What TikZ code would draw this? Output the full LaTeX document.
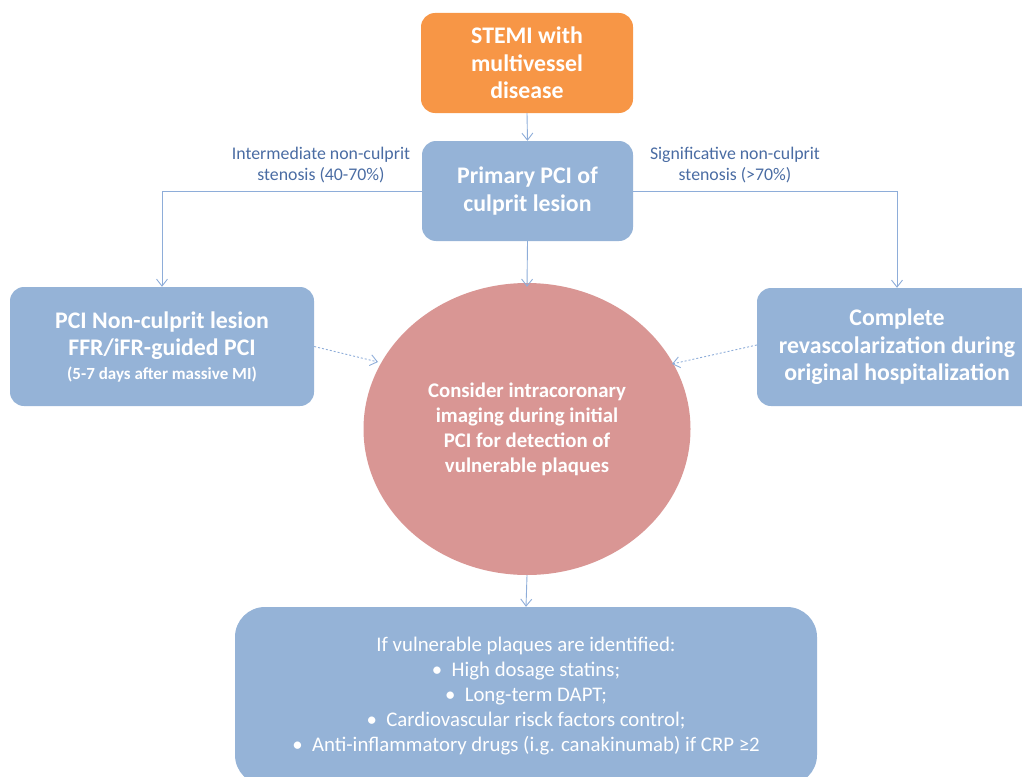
\documentclass[tikz,border=0pt]{standalone}
\usepackage{fontspec}
\setmainfont{Carlito}
\usetikzlibrary{arrows.meta,shapes.geometric}
\definecolor{orng}{HTML}{F79646}
\definecolor{bluebox}{HTML}{95B3D7}
\definecolor{pinkc}{HTML}{D99694}
\definecolor{conncol}{HTML}{8EADD9}
\definecolor{labcol}{HTML}{4A6CA3}
\tikzset{
  box/.style={rounded corners=14pt, inner sep=0pt, align=center, text=white, font=\bfseries\fontsize{23.8}{27.5}\selectfont},
  conn/.style={draw=conncol, line width=0.9pt, -{Straight Barb[length=7pt,width=11pt]}},
  dotconn/.style={conn, dash pattern=on 2pt off 2pt},
  lab/.style={align=center, text=labcol, font=\fontsize{17.8}{21}\selectfont, inner sep=0pt}
}
\begin{document}
\begin{tikzpicture}[x=1pt,y=-1pt]
\useasboundingbox (0,0) rectangle (1022,776);
\clip (0,0) rectangle (1022,776);
\node[box, fill=orng, minimum width=212pt, minimum height=100pt] (stemi) at (527,63) {STEMI with\\multivessel\\disease};
\node[box, fill=bluebox, minimum width=211pt, minimum height=100pt] (pci) at (527.5,191) {Primary PCI of\\culprit lesion};
\node[box, fill=bluebox, minimum width=304pt, minimum height=119pt] (left) at (162,346.5) {PCI Non-culprit lesion\\FFR/iFR-guided PCI\\[-4pt]{\fontsize{17}{20}\selectfont (5-7 days after massive MI)}};
\node[box, fill=bluebox, minimum width=280pt, minimum height=118pt] (right) at (897,347) {Complete\\revascolarization during\\original hospitalization};
\node[ellipse, fill=pinkc, minimum width=327pt, minimum height=292pt, inner sep=0pt, align=center, text=white, font=\bfseries\fontsize{20.8}{25}\selectfont] (circ) at (527,429) {Consider intracoronary\\imaging during initial\\PCI for detection of\\vulnerable plaques};
\node[fill=bluebox, rounded corners=30pt, minimum width=582pt, minimum height=178pt, inner sep=0pt, align=center, text=white, font=\fontsize{20.8}{25}\selectfont] (bottom) at (526,696) {If vulnerable plaques are identified:\\\textbullet\ \ High dosage statins;\\\textbullet\ \ Long-term DAPT;\\\textbullet\ \ Cardiovascular risck factors control;\\\textbullet\ \ Anti-inflammatory drugs (i.g. canakinumab) if CRP ≥2};
\node[lab] (lab1) at (321,165) {Intermediate non-culprit\\stenosis (40-70\%)};
\node[lab] (lab2) at (735,165) {Significative non-culprit\\stenosis (>70\%)};
\coordinate (lend) at (378,362);
\coordinate (rend) at (672,364);
\draw[conn] (stemi.south) -- (pci.north);
\draw[conn] (pci.south) -- ([yshift=-4pt]circ.north);
\draw[conn] (pci.west) -| (left.north);
\draw[conn] (pci.east) -| (right.north);
\draw[dotconn] (left.east) -- (lend);
\draw[dotconn] ([yshift=2pt]right.west) -- (rend);
\draw[conn] (circ.south) -- (bottom.north);
\end{tikzpicture}
\end{document}
